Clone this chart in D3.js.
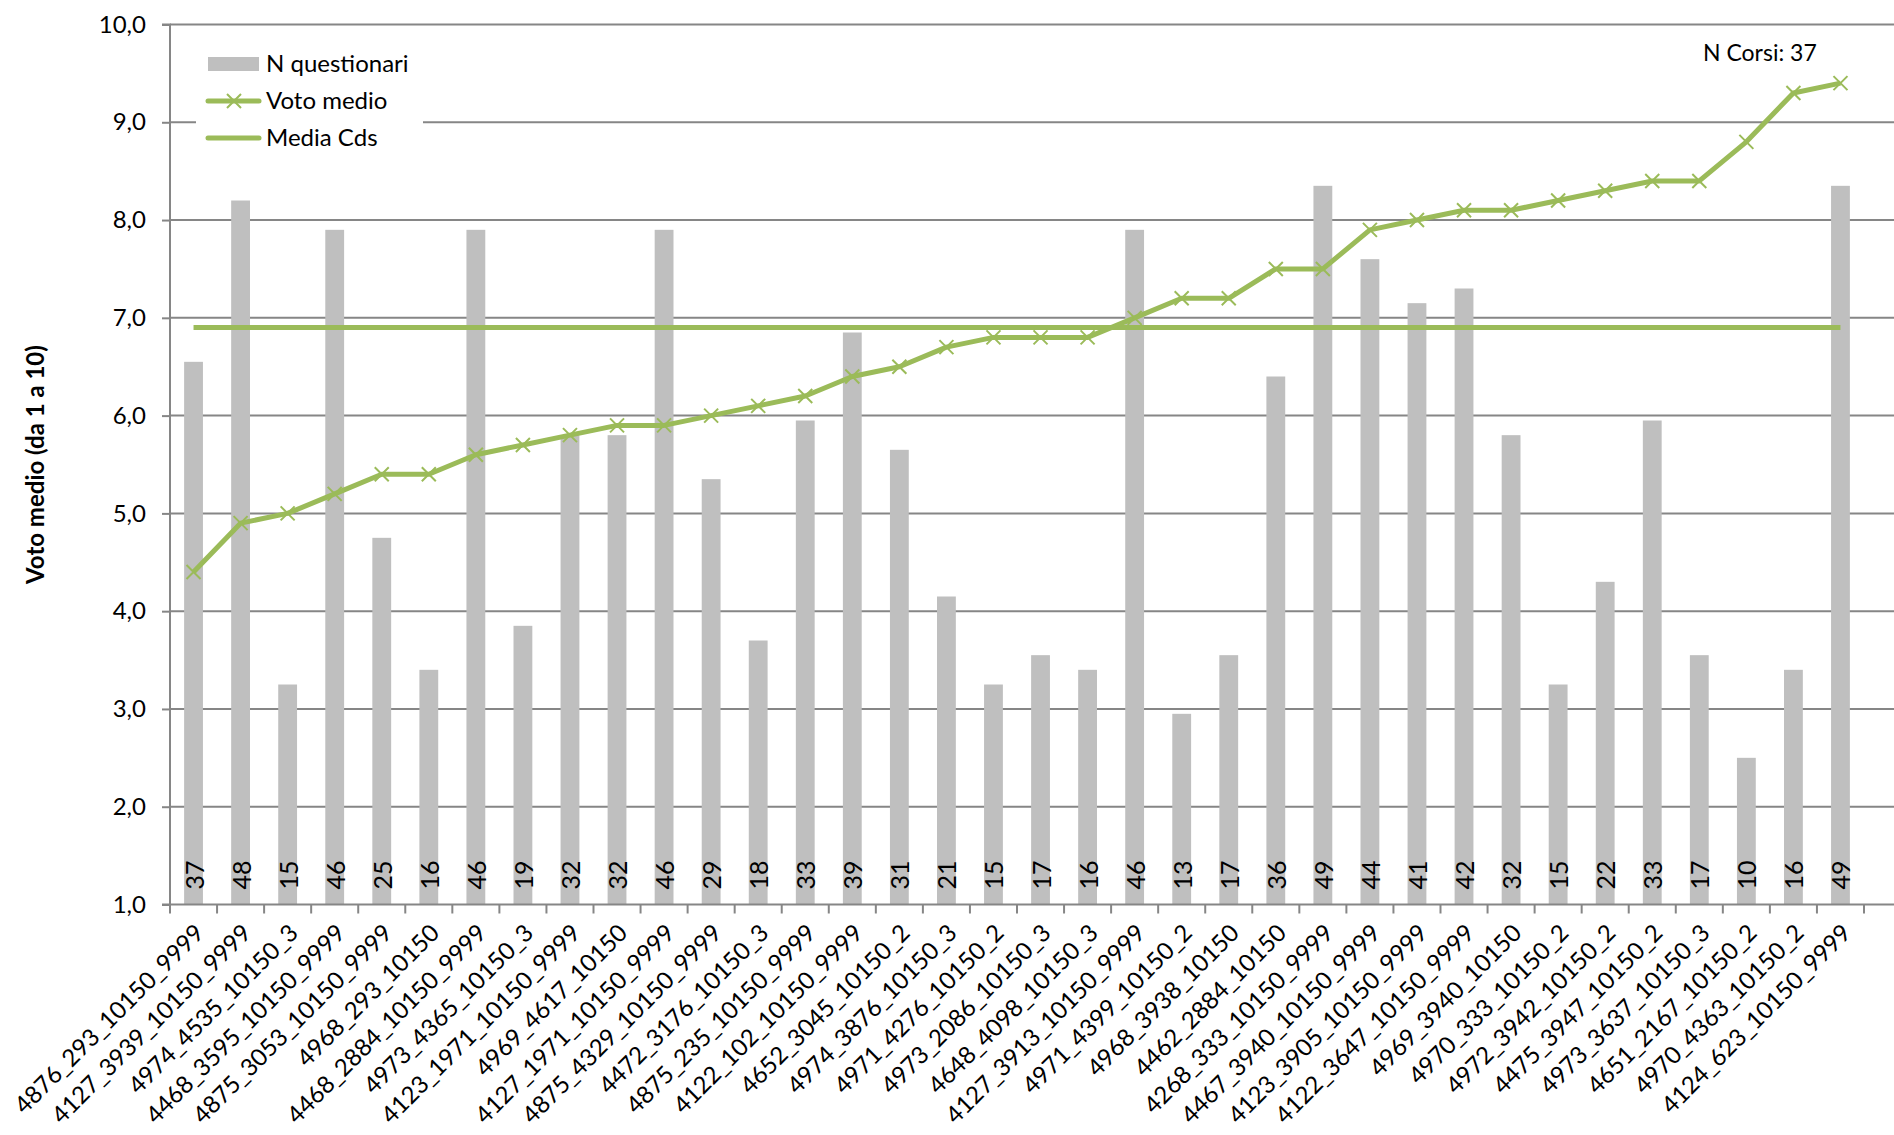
<!DOCTYPE html>
<html><head><meta charset="utf-8">
<script src="https://cdn.jsdelivr.net/npm/d3@7"></script>
<style>body{margin:0;background:#fff}svg{display:block}text{font-family:Lato,"Open Sans",sans-serif}</style>
</head><body>
<svg id="c" width="1894" height="1135"></svg>
<script>
const categories = ["4876_293_10150_9999","4127_3939_10150_9999","4974_4535_10150_3","4468_3595_10150_9999","4875_3053_10150_9999","4968_293_10150","4468_2884_10150_9999","4973_4365_10150_3","4123_1971_10150_9999","4969_4617_10150","4127_1971_10150_9999","4875_4329_10150_9999","4472_3176_10150_3","4875_235_10150_9999","4122_102_10150_9999","4652_3045_10150_2","4974_3876_10150_3","4971_4276_10150_2","4973_2086_10150_3","4648_4098_10150_3","4127_3913_10150_9999","4971_4399_10150_2","4968_3938_10150","4462_2884_10150","4268_333_10150_9999","4467_3940_10150_9999","4123_3905_10150_9999","4122_3647_10150_9999","4969_3940_10150","4970_333_10150_2","4972_3942_10150_2","4475_3947_10150_2","4973_3637_10150_3","4651_2167_10150_2","4970_4363_10150_2","4124_623_10150_9999"];
const nQuestionari = [37,48,15,46,25,16,46,19,32,32,46,29,18,33,39,31,21,15,17,16,46,13,17,36,49,44,41,42,32,15,22,33,17,10,16,49];
const votoMedio = [4.4,4.9,5.0,5.2,5.4,5.4,5.6,5.7,5.8,5.9,5.9,6.0,6.1,6.2,6.4,6.5,6.7,6.8,6.8,6.8,7.0,7.2,7.2,7.5,7.5,7.9,8.0,8.1,8.1,8.2,8.3,8.4,8.4,8.8,9.3,9.4];
const mediaCds = 6.9;
const yTicks = [1,2,3,4,5,6,7,8,9,10];
const nCorsi = 37;

const svg = d3.select("#c");
const L = 170, R = 1894, catR = 1864, T = 24.5, B = 904.5;
const x = d3.scaleBand().domain(categories).range([L, catR]).paddingInner(0.6).paddingOuter(0.3);
const xc = d => x(d) + x.bandwidth()/2;
const y = d3.scaleLinear().domain([1,10]).range([B, T]);
const y2 = d3.scaleLinear().domain([0,60]).range([B, T]);
const grey = "#868686", green = "#9BBB59";

// gridlines
svg.append("g").selectAll("line").data(yTicks.slice(1)).join("line")
  .attr("x1", L).attr("x2", R).attr("y1", d=>y(d)).attr("y2", d=>y(d))
  .attr("stroke", grey).attr("stroke-width", 2);

// bars
svg.append("g").selectAll("rect").data(nQuestionari).join("rect")
  .attr("x", (d,i)=>x(categories[i])).attr("width", x.bandwidth())
  .attr("y", d=>y2(d)).attr("height", d=>B - y2(d)).attr("fill", "#BFBFBF");

// bar labels
svg.append("g").selectAll("text").data(nQuestionari).join("text")
  .attr("transform", (d,i)=>`translate(${xc(categories[i])+1},${B-15}) rotate(-90)`)
  .attr("dy","0.36em").attr("font-size", 25).attr("fill","#000").text(d=>d);

// axes
const yAxis = d3.axisLeft(y).tickValues(yTicks).tickSize(8).tickFormat(d=>d3.format(".1f")(d).replace(".",","));
const gy = svg.append("g").attr("transform",`translate(${L},0)`).call(yAxis);
gy.select(".domain").attr("stroke", grey).attr("stroke-width",2).attr("d",`M-8,${T}H0V${B}H-8`);
gy.selectAll(".tick line").attr("stroke", grey).attr("stroke-width",2);
gy.selectAll(".tick text").attr("font-size",24).attr("font-family","Lato").attr("fill","#000").attr("x",-24);

const xTickPos = categories.map(c=>x(c)-x.step()*x.paddingInner()/2).concat([catR]);
svg.append("line").attr("x1",L).attr("x2",R).attr("y1",B).attr("y2",B).attr("stroke",grey).attr("stroke-width",2);
svg.append("g").selectAll("line").data(xTickPos).join("line")
  .attr("x1",d=>d).attr("x2",d=>d).attr("y1",B).attr("y2",B+9).attr("stroke",grey).attr("stroke-width",2);

svg.append("g").selectAll("text").data(categories).join("text")
  .attr("transform", d=>`translate(${xc(d)+6},${B+24}) rotate(-45)`)
  .attr("text-anchor","end").attr("dy","0.35em").attr("font-size",24).attr("fill","#000").text(d=>d);

// media cds line
svg.append("line").attr("x1",xc(categories[0])).attr("x2",xc(categories[categories.length-1]))
  .attr("y1",y(mediaCds)).attr("y2",y(mediaCds)).attr("stroke",green).attr("stroke-width",5);

// voto medio line
const line = d3.line().x((d,i)=>xc(categories[i])).y(d=>y(d));
svg.append("path").datum(votoMedio).attr("d",line).attr("fill","none").attr("stroke",green).attr("stroke-width",5).attr("stroke-linejoin","round");
const mk = 7;
svg.append("g").selectAll("path").data(votoMedio).join("path")
  .attr("d",(d,i)=>{const cx=xc(categories[i]), cy=y(d);return `M${cx-mk},${cy-mk}L${cx+mk},${cy+mk}M${cx-mk},${cy+mk}L${cx+mk},${cy-mk}`;})
  .attr("stroke",green).attr("stroke-width",2);

// legend
const lg = svg.append("g");
lg.append("rect").attr("x",196).attr("y",38).attr("width",227).attr("height",118).attr("fill","#fff");
lg.append("rect").attr("x",208).attr("y",57).attr("width",51).attr("height",14).attr("fill","#BFBFBF");
lg.append("line").attr("x1",208).attr("x2",259).attr("y1",101).attr("y2",101).attr("stroke",green).attr("stroke-width",5).attr("stroke-linecap","round");
lg.append("path").attr("d",`M${234-mk},${101-mk}L${234+mk},${101+mk}M${234-mk},${101+mk}L${234+mk},${101-mk}`).attr("stroke",green).attr("stroke-width",2);
lg.append("line").attr("x1",208).attr("x2",259).attr("y1",138).attr("y2",138).attr("stroke",green).attr("stroke-width",5).attr("stroke-linecap","round");
const lt = [["N questionari",64],["Voto medio",101],["Media Cds",138]];
lg.selectAll("text.l").data(lt).join("text").attr("class","l").attr("x",266).attr("y",d=>d[1]).attr("dy","0.35em")
  .attr("font-size",24).attr("fill","#000").text(d=>d[0]);

svg.append("text").attr("x",1703).attr("y",53).attr("dy","0.35em").attr("font-size",23).attr("fill","#000").text("N Corsi: " + nCorsi);

svg.append("text").attr("transform",`translate(36,${(T+B)/2}) rotate(-90)`).attr("text-anchor","middle").attr("dy","0.35em")
  .attr("font-size",24).attr("font-weight","bold").attr("fill","#000").text("Voto medio (da 1 a 10)");
</script>
</body></html>
